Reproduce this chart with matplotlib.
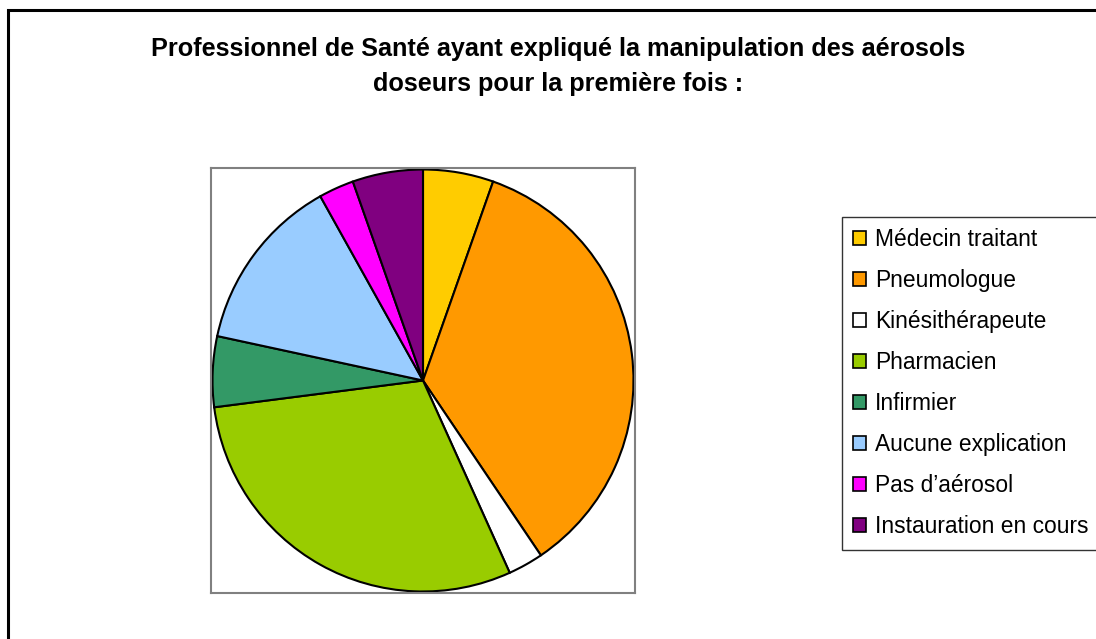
import matplotlib
matplotlib.use("Agg")
import matplotlib.pyplot as plt
from matplotlib.patches import Rectangle, Patch

labels = ["Médecin traitant", "Pneumologue", "Kinésithérapeute", "Pharmacien",
          "Infirmier", "Aucune explication", "Pas d\u2019aérosol", "Instauration en cours"]
counts = [2, 13, 1, 11, 2, 5, 1, 2]
colors = ["#FFCC00", "#FF9900", "#FFFFFF", "#99CC00",
          "#339966", "#99CCFF", "#FF00FF", "#800080"]
title = "Professionnel de Santé ayant expliqué la manipulation des aérosols\ndoseurs pour la première fois :"

plt.rcParams['font.family'] = ['Liberation Sans', 'DejaVu Sans']

W, H = 1096, 639
fig = plt.figure(figsize=(W / 100, H / 100), dpi=100)
fig.patch.set_facecolor("white")

# outer chart frame (extends beyond right/bottom edges)
fig.add_artist(Rectangle((8 / W, -0.1), 1.2, 1 - 10 / H + 0.1, transform=fig.transFigure,
                         fill=False, edgecolor="black", linewidth=2.2, clip_on=False))

fig.text(558 / W, 1 - 66.5 / H, title, ha="center", va="center", fontsize=18.2,
         fontweight="bold", linespacing=1.56)

ax = fig.add_axes([211 / W, 1 - 593 / H, 424 / W, 425 / H])
ax.pie(counts, colors=colors, startangle=90, counterclock=False, radius=211 / 212.5,
       wedgeprops=dict(edgecolor="black", linewidth=1.5))
ax.set_xlim(-1, 1)
ax.set_ylim(-1, 1)
ax.set_aspect("auto")
ax.set_frame_on(True)
ax.set_axis_on()
ax.set_xticks([])
ax.set_yticks([])
for s in ax.spines.values():
    s.set_visible(True)
    s.set_edgecolor("#808080")
    s.set_linewidth(1.5)

handles = [Patch(facecolor=c, edgecolor="black", linewidth=1.2) for c in colors]
leg = fig.legend(handles, labels, loc="upper left", bbox_to_anchor=(842 / W, 1 - 217 / H),
                 fontsize=16.4, frameon=True, fancybox=False, edgecolor="black",
                 handlelength=0.55, handleheight=0.55, handletextpad=0.4,
                 labelspacing=0.79, borderpad=0.5, borderaxespad=0)
leg.get_frame().set_linewidth(1.0)

fig.savefig("out.png", dpi=100)
